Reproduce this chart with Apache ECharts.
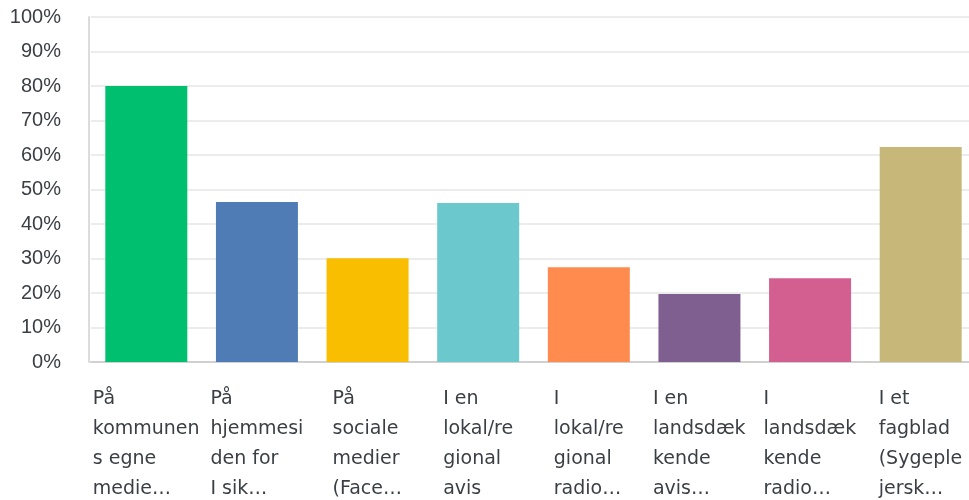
<!DOCTYPE html>
<html>
<head>
<meta charset="utf-8">
<script src="https://cdn.jsdelivr.net/npm/echarts@6/dist/echarts.min.js"></script>
<style>html,body{margin:0;padding:0;background:#fff}#c{width:969px;height:500px}</style>
</head>
<body>
<div id="c"></div>
<script>
var categories = [
  "På\nkommunen\ns egne\nmedie…",
  "På\nhjemmesi\nden for\nI sik…",
  "På\nsociale\nmedier\n(Face…",
  "I en\nlokal/re\ngional\navis",
  "I\nlokal/re\ngional\nradio…",
  "I en\nlandsdæk\nkende\navis…",
  "I\nlandsdæk\nkende\nradio…",
  "I et\nfagblad\n(Sygeple\njersk…"
];
var values = [80, 46.4, 30.1, 46.1, 27.5, 19.7, 24.3, 62.3];
var colors = ["#00bf6f", "#507cb6", "#f9be00", "#6bc8cd", "#ff8b4f", "#7f5f90", "#d25f90", "#c7b879"];
var yTicks = [0, 10, 20, 30, 40, 50, 60, 70, 80, 90, 100];

var labelFont = "DejaVu Sans";
var labelSize = 19;
var cvs = document.createElement('canvas').getContext('2d');
cvs.font = labelSize + "px '" + labelFont + "'";
var rich = {};
categories.forEach(function (c, i) {
  var w = 0;
  c.split('\n').forEach(function (l) { w = Math.max(w, cvs.measureText(l).width); });
  rich['c' + i] = { width: Math.ceil(w), align: 'left', lineHeight: 30, fontSize: labelSize, fontFamily: labelFont, color: '#3b3f45' };
});

var chart = echarts.init(document.getElementById('c'), null, { renderer: 'canvas' });
chart.setOption({
  animation: false,
  grid: { left: 91, width: 885, top: 17, height: 345, outerBoundsMode: 'none', containLabel: false },
  xAxis: {
    type: 'category',
    data: categories,
    axisLine: { show: true, lineStyle: { color: '#d0d0d0', width: 2 } },
    axisTick: { show: false },
    axisLabel: {
      interval: 0,
      margin: 22,
      verticalAlign: 'top',
      formatter: function (v, i) {
        return v.split('\n').map(function (l) { return '{c' + i + '|' + l + '}'; }).join('\n');
      },
      rich: rich
    }
  },
  yAxis: {
    type: 'value',
    min: 0, max: 100, interval: 10,
    offset: 2,
    axisLine: { show: true, lineStyle: { color: '#dcdcdc', width: 2 } },
    axisTick: { show: false },
    splitLine: { lineStyle: { color: '#ececec', width: 2 } },
    axisLabel: {
      margin: 28,
      fontSize: 20,
      fontFamily: 'Liberation Sans',
      color: '#3b3f45',
      padding: [4, 0, 0, 0],
      formatter: function (v) { return yTicks.indexOf(v) >= 0 ? v + '%' : ''; }
    }
  },
  series: [{
    type: 'bar',
    barWidth: 82,
    data: values.map(function (v, i) { return { value: v, itemStyle: { color: colors[i] } }; })
  }]
});
</script>
</body>
</html>
